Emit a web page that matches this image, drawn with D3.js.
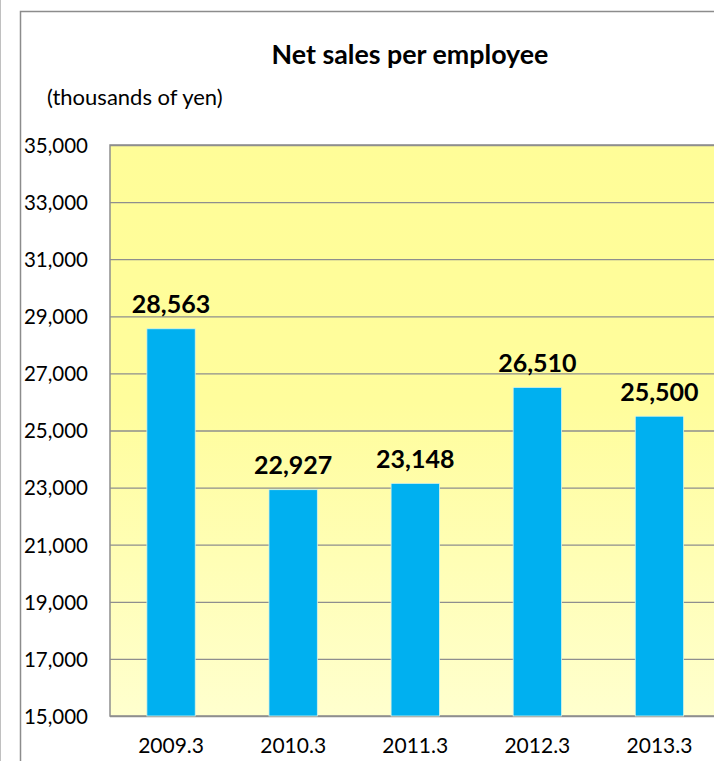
<!DOCTYPE html>
<html>
<head>
<meta charset="utf-8">
<script src="https://cdn.jsdelivr.net/npm/d3@7"></script>
<style>
  html, body { margin: 0; padding: 0; background: #ffffff; }
  svg { display: block; }
</style>
</head>
<body>
<div id="chart"></div>
<script>
const categories = ["2009.3", "2010.3", "2011.3", "2012.3", "2013.3"];
const values = [28563, 22927, 23148, 26510, 25500];
const yTicks = [15000, 17000, 19000, 21000, 23000, 25000, 27000, 29000, 31000, 33000, 35000];
const titleText = "Net sales per employee";
const unitText = "(thousands of yen)";

const W = 714, H = 761;
const plot = { left: 110, top: 145, right: 720.5, bottom: 716 };
const FONT = "Lato, 'Noto Sans', sans-serif";

const svg = d3.select("#chart").append("svg")
  .attr("width", W).attr("height", H);

const defs = svg.append("defs");
const grad = defs.append("linearGradient")
  .attr("id", "bg").attr("x1", 0).attr("y1", 0).attr("x2", 0).attr("y2", 1);
grad.append("stop").attr("offset", "0%").attr("stop-color", "#FFFD98");
grad.append("stop").attr("offset", "45%").attr("stop-color", "#FFFD9C");
grad.append("stop").attr("offset", "100%").attr("stop-color", "#FFFFCE");

// far-left edge line and chart frame
svg.append("line").attr("x1", 0.5).attr("x2", 0.5).attr("y1", 0).attr("y2", H)
  .attr("stroke", "#c0c0c0").attr("stroke-width", 1);
svg.append("path")
  .attr("d", `M20.5,${H} V11.5 H${W + 5}`)
  .attr("fill", "none").attr("stroke", "#8c8c8c").attr("stroke-width", 1.5);

const x = d3.scaleBand().domain(categories)
  .range([plot.left, plot.right]).paddingInner(0.604).paddingOuter(0.302);
const y = d3.scaleLinear().domain([15000, 35000]).range([plot.bottom, plot.top]);

// plot background
svg.append("rect")
  .attr("x", plot.left).attr("y", plot.top)
  .attr("width", plot.right - plot.left).attr("height", plot.bottom - plot.top)
  .attr("fill", "url(#bg)");

// gridlines
const grid = svg.append("g").attr("transform", `translate(${plot.left},0)`)
  .call(d3.axisLeft(y).tickValues(yTicks).tickSize(-(plot.right - plot.left)).tickFormat(""));
grid.select(".domain").remove();
grid.selectAll("line").attr("stroke", "#8e8e8e").attr("stroke-width", 1.3);

// plot border
svg.append("path")
  .attr("d", `M${plot.right},${plot.top} H${plot.left} V${plot.bottom} H${plot.right}`)
  .attr("fill", "none").attr("stroke", "#8e8e8e").attr("stroke-width", 1.5);

// bars
svg.append("g").selectAll("rect").data(values).join("rect")
  .attr("x", (d, i) => x(categories[i]))
  .attr("y", d => y(d))
  .attr("width", x.bandwidth())
  .attr("height", d => y(15000) - y(d))
  .attr("fill", "#00B0F0")
  .attr("stroke", "#d9f2e6").attr("stroke-width", 0.8);

// value labels
svg.append("g").selectAll("text").data(values).join("text")
  .attr("x", (d, i) => x(categories[i]) + x.bandwidth() / 2)
  .attr("y", d => y(d) - 15.5)
  .attr("text-anchor", "middle")
  .attr("font-family", FONT).attr("font-weight", "bold").attr("font-size", 25)
  .attr("fill", "#000")
  .text(d => d3.format(",")(d));

// y axis labels
const yAxis = svg.append("g").attr("transform", `translate(88,0)`)
  .call(d3.axisLeft(y).tickValues(yTicks).tickSize(0).tickPadding(0).tickFormat(d3.format(",")));
yAxis.select(".domain").remove();
yAxis.selectAll("text")
  .attr("font-family", FONT).attr("font-size", 20.5).attr("fill", "#000")
  .attr("dy", "0.36em");

// x axis labels
const xAxis = svg.append("g").attr("transform", `translate(0,${plot.bottom})`)
  .call(d3.axisBottom(x).tickSize(0).tickPadding(0));
xAxis.select(".domain").remove();
xAxis.selectAll("text")
  .attr("font-family", FONT).attr("font-size", 21).attr("fill", "#000")
  .attr("dy", 0).attr("y", 37);

// title and unit
svg.append("text").attr("x", 410).attr("y", 64)
  .attr("text-anchor", "middle")
  .attr("font-family", FONT).attr("font-weight", "bold").attr("font-size", 26.8)
  .attr("fill", "#000").text(titleText);
svg.append("text").attr("x", 47).attr("y", 105)
  .attr("font-family", FONT).attr("font-size", 22)
  .attr("fill", "#000").text(unitText);
</script>
</body>
</html>
